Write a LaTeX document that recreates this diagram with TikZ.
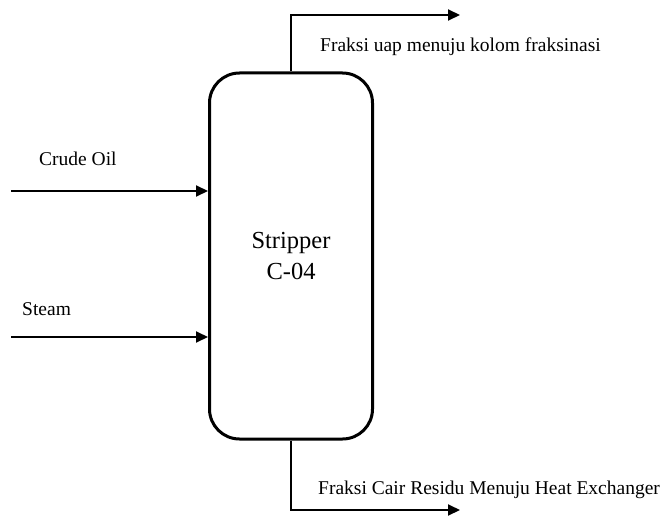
\documentclass[tikz,border=0pt]{standalone}
\usepackage{fontspec}
\setmainfont{Liberation Serif}
\usetikzlibrary{positioning, arrows.meta}

\begin{document}
\begin{tikzpicture}[x=1pt, y=-1pt, >={Triangle[length=12pt, width=11pt]},
    vessel/.style={draw, line width=3pt, rounded corners=30pt, minimum width=163pt, minimum height=366pt, align=center, font=\fontsize{24.5}{31}\selectfont},
    flow/.style={->, line width=2pt},
    tag/.style={anchor=west, inner sep=0pt, font=\fontsize{19.5}{22}\selectfont}]
            \useasboundingbox (0,0) rectangle (664,516);

            \node[vessel] (C04) at (291,256) {Stripper\\C-04};

            \coordinate (crude) at (11,191);
            \coordinate (steam) at (11,337);
            \coordinate (vapour) at (460,15);
            \coordinate (residue) at (460,510);

            \draw[flow] (crude) -- (C04.west |- crude);
            \draw[flow] (steam) -- (C04.west |- steam);
            \draw[flow] (C04.north) |- (vapour);
            \draw[flow] (C04.south) |- (residue);

            \node[tag] (crudetext) at (39,159) {Crude Oil};
            \node[tag] (steamtext) at (22,309) {Steam};
            \node[tag] (vapourtext) at (320,47) {Fraksi uap menuju kolom fraksinasi};
            \node[tag] (residuetext) at (318,490) {Fraksi Cair Residu Menuju Heat Exchanger};
        \end{tikzpicture}
\end{document}
